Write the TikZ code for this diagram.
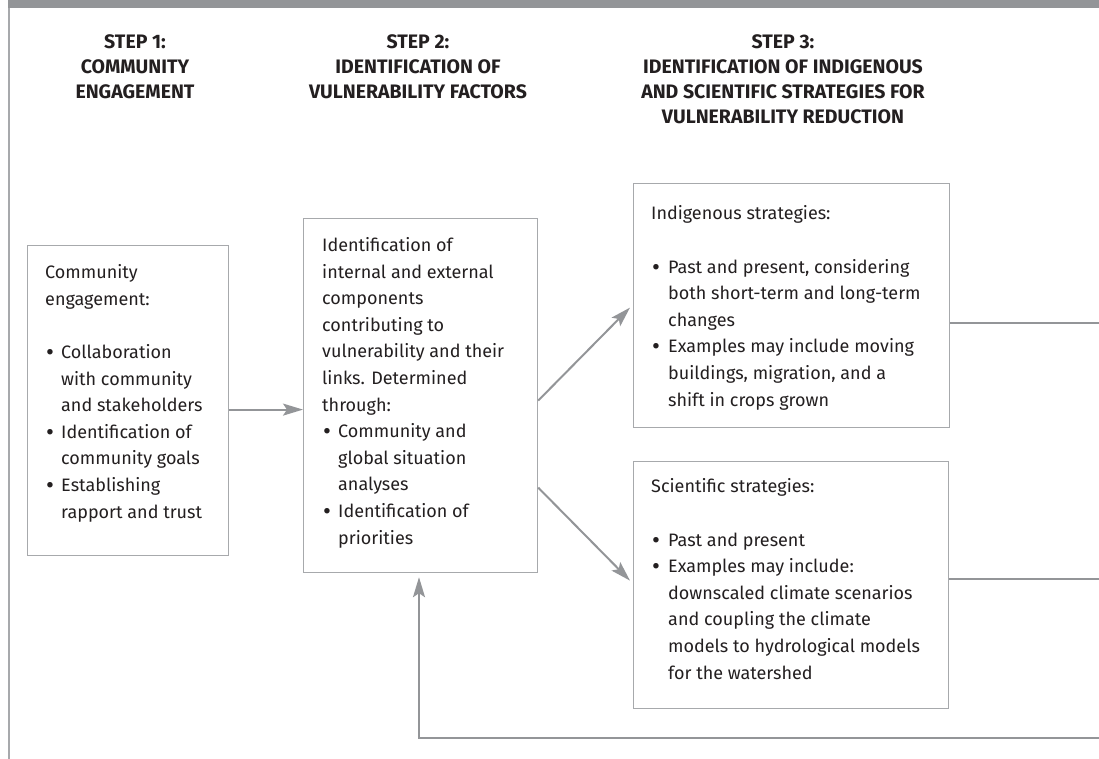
\documentclass[tikz,border=0pt]{standalone}
\usepackage{fontspec}
\setmainfont{Fira Sans}
\usetikzlibrary{arrows.meta,calc}
\definecolor{band}{HTML}{939598}
\definecolor{ln}{HTML}{939598}
\definecolor{boxc}{HTML}{A7A9AC}
\definecolor{txt}{HTML}{231F20}
\newcommand{\bigdot}{\raisebox{-2pt}{\scalebox{1.35}{\textbullet}}}
\newcommand{\bul}{\makebox[16pt][l]{\hspace{1pt}\bigdot}}
\newcommand{\ind}{\hspace*{16pt}}
\newcommand{\bulb}{\makebox[17pt][l]{\hspace{1pt}\bigdot}}
\newcommand{\indb}{\hspace*{17pt}}
\begin{document}
\begin{tikzpicture}[x=1pt,y=-1pt,
  boxnode/.style={draw=boxc, line width=1.2pt, fill=white, inner sep=0pt, anchor=north west},
  bodytext/.style={anchor=base west, align=left, inner sep=0pt, text=txt, font=\fontsize{18}{26.6}\selectfont},
  headtext/.style={anchor=base, align=center, inner sep=0pt, text=txt, font=\bfseries\fontsize{19.5}{25.3}\selectfont},
  conn/.style={draw=ln, line width=2pt},
  arr/.style={conn, -{Stealth[length=20pt,width=12pt,inset=4pt]}},
]
\useasboundingbox (0,0) rectangle (1099,759);
\fill[band] (8,0) rectangle (1099,8);
\draw[boxc, line width=1.8pt] (9,8) -- (9,759);

% headings (anchor base = baseline of last line)
\node[headtext] (h1) at (135,99) {STEP 1:\\COMMUNITY\\ENGAGEMENT};
\node[headtext] (h2) at (418,99) {STEP 2:\\IDENTIFICATION OF\\VULNERABILITY FACTORS};
\node[headtext] (h3) at (783,124) {STEP 3:\\IDENTIFICATION OF INDIGENOUS\\AND SCIENTIFIC STRATEGIES FOR\\VULNERABILITY REDUCTION};

% boxes
\node[boxnode, minimum width=201pt, minimum height=310pt] (b1) at (27,245) {};
\node[boxnode, minimum width=234pt, minimum height=354pt] (b2) at (303,218) {};
\node[boxnode, minimum width=316pt, minimum height=244pt] (b3) at (633,183) {};
\node[boxnode, minimum width=315pt, minimum height=247pt] (b4) at (633,461) {};

% texts (anchor base = baseline of last line)
\node[bodytext] (t1) at (45,518) {Community\\engagement:\\\mbox{}\\
\bul Collaboration\\\ind with community\\\ind and stakeholders\\
\bul Identification of\\\ind community goals\\
\bul Establishing\\\ind rapport and trust};

\node[bodytext] (t2) at (322,544) {Identification of\\internal and external\\components\\contributing to\\vulnerability and their\\links. Determined\\through:\\
\bul Community and\\\ind global situation\\\ind analyses\\
\bul Identification of\\\ind priorities};

\node[bodytext] (t3) at (651,406) {Indigenous strategies:\\\mbox{}\\
\bulb Past and present, considering\\\indb both short-term and long-term\\\indb changes\\
\bulb Examples may include moving\\\indb buildings, migration, and a\\\indb shift in crops grown};

\node[bodytext] (t4) at (651,679) {Scientific strategies:\\\mbox{}\\
\bulb Past and present\\
\bulb Examples may include:\\\indb downscaled climate scenarios\\\indb and coupling the climate\\\indb models to hydrological models\\\indb for the watershed};

% connectors
\draw[arr] ([yshift=-9pt]b1.east) -- ([yshift=-9pt]b1.east -| b2.west);
\draw[arr] ([yshift=-5pt]b2.east) -- ([xshift=-3pt,yshift=-2pt]b3.west);
\draw[arr] ([yshift=-92pt]b2.east) -- ([xshift=-3pt,yshift=4.5pt]b4.west);

\coordinate (r3) at (1099,323);
\coordinate (r4) at (1099,579);
\coordinate (r5) at (1099,738);
\coordinate (fb) at (419,738);
\draw[conn] (b3.east |- r3) -- (r3);
\draw[conn] (b4.east |- r4) -- (r4);
\draw[arr, shorten >=4pt] (r5) -- (fb) -- (fb |- b2.south);
\end{tikzpicture}
\end{document}
